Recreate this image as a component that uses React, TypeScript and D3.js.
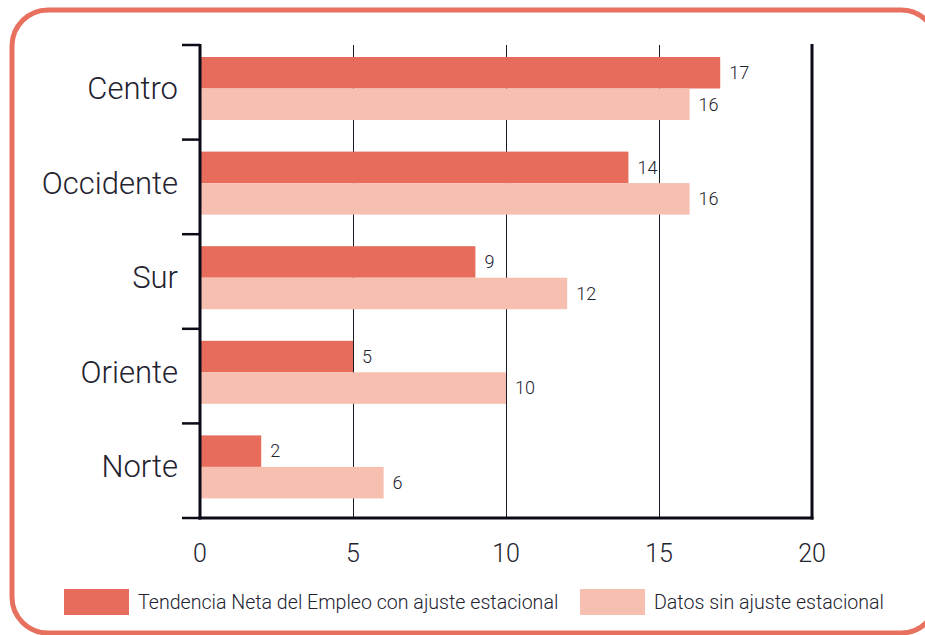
import * as React from "react";
import * as d3 from "d3";

const categories = ["Centro", "Occidente", "Sur", "Oriente", "Norte"];
const seriesNames = [
  "Tendencia Neta del Empleo con ajuste estacional",
  "Datos sin ajuste estacional",
];
const conAjuste = [17, 14, 9, 5, 2];
const sinAjuste = [16, 16, 12, 10, 6];
const xTicks = [0, 5, 10, 15, 20];

const colors = ["#e76c5c", "#f7bfb0"];
const ink = "#23232f";

export default function App() {
  const width = 925;
  const height = 635;
  const left = 200;
  const right = 812;
  const top = 45;
  const bottom = 518;

  const x = d3.scaleLinear([0, 20], [left, right]);
  const y = d3.scaleBand(categories, [top, bottom]);
  const inner = d3.scaleBand(["con", "sin"], [12, 75]);
  const series = [conAjuste, sinAjuste];

  return (
    <svg
      width={width}
      height={height}
      style={{ position: "absolute", left: 0, top: 0 }}
    >
      <rect width={width} height={height} fill="#fff" />
      {/* marco redondeado */}
      <rect
        x={12}
        y={10}
        width={925}
        height={623}
        rx={36}
        fill="none"
        stroke="#e8705e"
        strokeWidth={5}
      />

      {/* lineas de referencia */}
      {xTicks.slice(1, -1).map((t) => (
        <line
          key={t}
          x1={Math.round(x(t)) + 0.5}
          x2={Math.round(x(t)) + 0.5}
          y1={top}
          y2={bottom}
          stroke="#1a1a26"
          strokeWidth={1}
        />
      ))}

      {/* barras */}
      {categories.map((c, i) => (
        <g key={c} transform={`translate(0,${y(c)})`}>
          {series.map((s, j) => {
            const key = j === 0 ? "con" : "sin";
            const yy = inner(key)!;
            return (
              <g key={key}>
                <rect
                  x={x(0)}
                  y={yy}
                  width={x(s[i]) - x(0)}
                  height={inner.bandwidth()}
                  fill={colors[j]}
                />
                <text
                  x={x(s[i]) + 9}
                  y={yy + inner.bandwidth() / 2}
                  dy="0.35em"
                  fontFamily="Roboto, sans-serif"
                  fontWeight={300}
                  fontSize={18}
                  fill={ink}
                >
                  {s[i]}
                </text>
              </g>
            );
          })}
          <text
            x={178}
            y={(inner("con")! + inner("sin")! + inner.bandwidth()) / 2}
            dy="0.34em"
            textAnchor="end"
            fontFamily="Roboto, sans-serif"
            fontWeight={300}
            fontSize={31}
            fill={ink}
          >
            {c}
          </text>
        </g>
      ))}

      {/* ejes */}
      <line x1={left} x2={left} y1={top - 1} y2={bottom + 1.5} stroke="#0b0b18" strokeWidth={3} />
      <line x1={right} x2={right} y1={top - 1} y2={bottom + 1.5} stroke="#0b0b18" strokeWidth={3} />
      <line x1={left - 1.5} x2={right + 1.5} y1={bottom} y2={bottom} stroke="#0b0b18" strokeWidth={3} />
      {categories.map((c) => (
        <line
          key={c}
          x1={182}
          x2={left}
          y1={y(c)!}
          y2={y(c)!}
          stroke="#0b0b18"
          strokeWidth={2.5}
        />
      ))}
      <line x1={182} x2={left} y1={bottom} y2={bottom} stroke="#0b0b18" strokeWidth={2.5} />

      {xTicks.map((t) => (
        <text
          key={t}
          x={x(t)}
          y={553}
          dy="0.36em"
          textAnchor="middle"
          fontFamily="Roboto, sans-serif"
          fontWeight={300}
          fontSize={25}
          fill={ink}
        >
          {t}
        </text>
      ))}

      {/* leyenda */}
      {seriesNames.map((n, j) => {
        const lx = j === 0 ? 64 : 580;
        return (
          <g key={n} transform={`translate(${lx},589)`}>
            <rect width={65} height={26} fill={colors[j]} />
            <text
              x={74}
              y={13}
              dy="0.35em"
              fontFamily="Roboto, sans-serif"
              fontWeight={300}
              fontSize={19.6}
              fill={ink}
            >
              {n}
            </text>
          </g>
        );
      })}
    </svg>
  );
}
